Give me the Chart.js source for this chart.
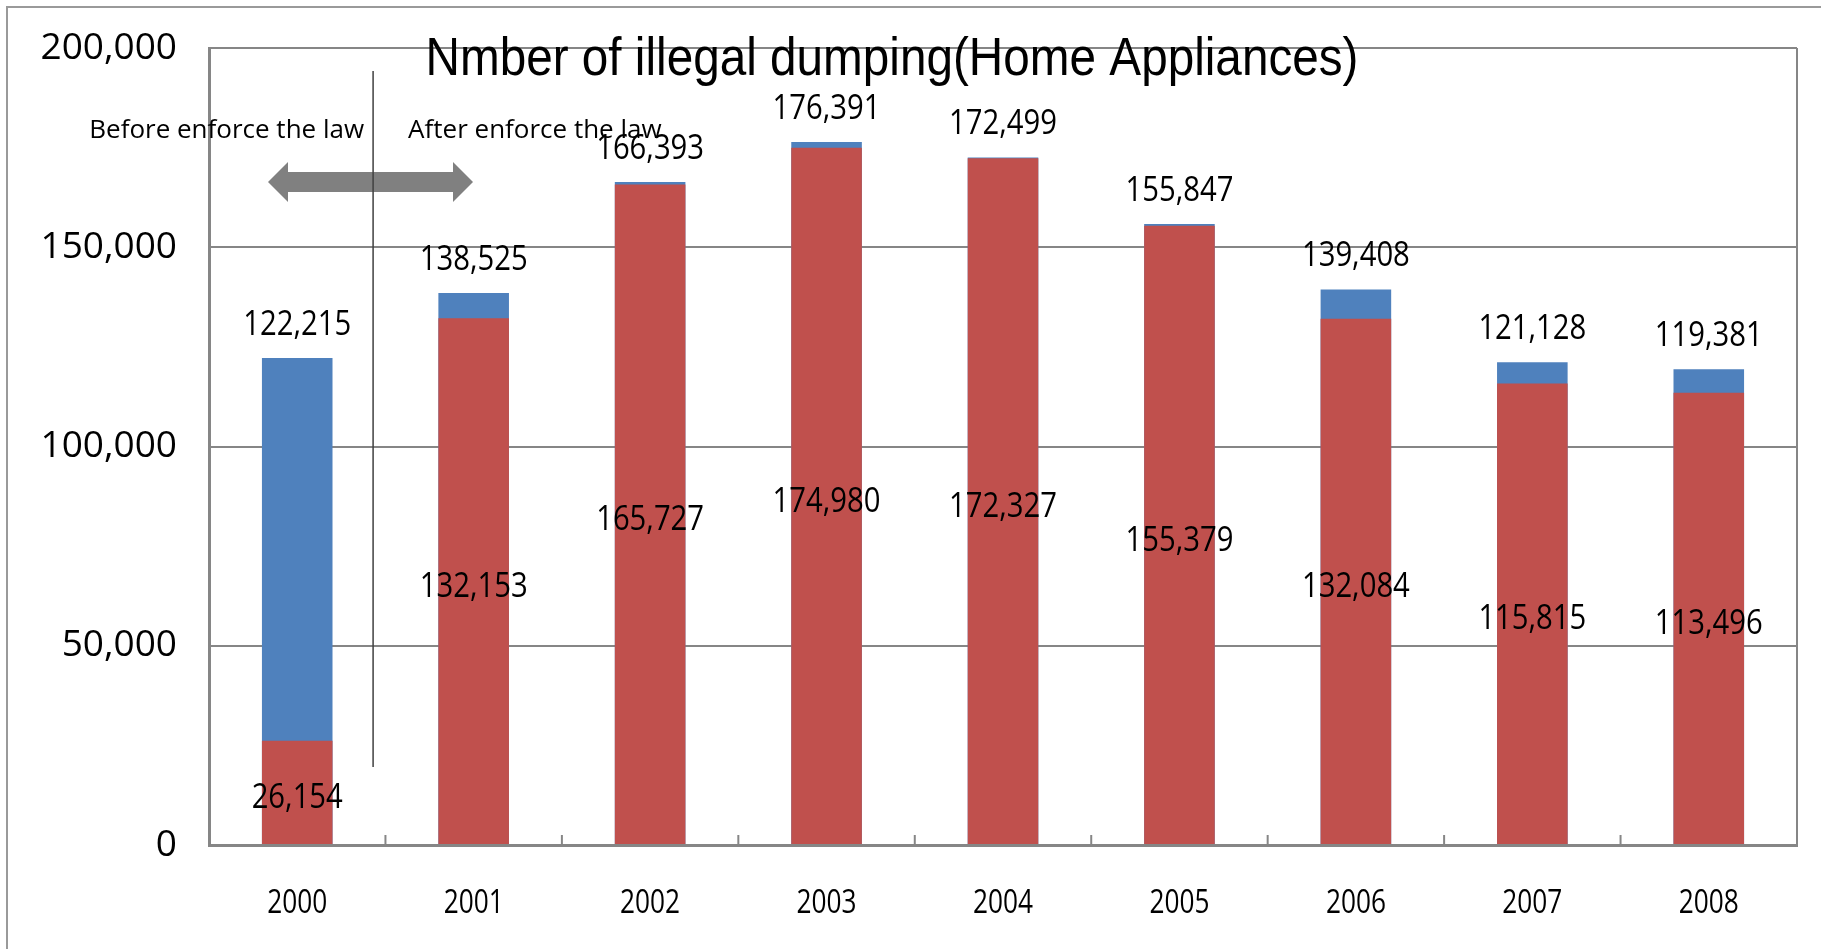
<!DOCTYPE html>
<html>
<head>
<meta charset="utf-8">
<script src="https://cdn.jsdelivr.net/npm/chart.js@4.4.1/dist/chart.umd.min.js"></script>
<style>
  body { margin: 0; background: #fff; }
</style>
</head>
<body>
<canvas id="myChart" width="1821" height="949"></canvas>
<script>
// DATA
const years = ["2000", "2001", "2002", "2003", "2004", "2005", "2006", "2007", "2008"];
const totalCounts = [122215, 138525, 166393, 176391, 172499, 155847, 139408, 121128, 119381];
const redCounts = [26154, 132153, 165727, 174980, 172327, 155379, 132084, 115815, 113496];
const yTicks = [0, 50000, 100000, 150000, 200000];

const chartTitle = "Nmber of illegal dumping(Home Appliances)";
const beforeText = "Before enforce the law";
const afterText = "After enforce the law";

const gridGray = "#868686";

function fmt(v) {
  return v.toLocaleString("en-US");
}

// text squeezed sideways, to look like the narrow office fonts
function squeezedText(ctx, text, x, y, sx) {
  ctx.save();
  ctx.translate(x, y);
  ctx.scale(sx, 1);
  ctx.fillText(text, 0, 0);
  ctx.restore();
}

// labels, frame, arrow, title
const extras = {
  id: "extras",
  afterDatasetsDraw(chart) {
    const ctx = chart.ctx;
    ctx.save();
    ctx.fillStyle = "#000";
    ctx.font = "34px 'Open Sans'";
    ctx.textAlign = "center";
    ctx.textBaseline = "middle";

    // red values, centred in the red bar
    chart.getDatasetMeta(0).data.forEach((bar, i) => {
      squeezedText(ctx, fmt(redCounts[i]), bar.x, (bar.y + bar.base) / 2 + 6, 0.86);
    });
    // totals above the bar
    chart.getDatasetMeta(1).data.forEach((bar, i) => {
      squeezedText(ctx, fmt(totalCounts[i]), bar.x, bar.y - 33, 0.86);
    });
    ctx.restore();
  },
  afterDraw(chart) {
    const ctx = chart.ctx;
    const area = chart.chartArea;
    const xs = chart.scales.x;
    ctx.save();

    // outer frame
    ctx.strokeStyle = "#9a9a9a";
    ctx.lineWidth = 2;
    ctx.beginPath();
    ctx.moveTo(7, chart.height);
    ctx.lineTo(7, 7);
    ctx.lineTo(chart.width, 7);
    ctx.stroke();

    // right border of plot
    ctx.strokeStyle = gridGray;
    ctx.lineWidth = 2;
    ctx.beginPath();
    ctx.moveTo(area.right, area.top);
    ctx.lineTo(area.right, area.bottom);
    ctx.stroke();

    // inward tick marks between categories
    for (let i = 0; i <= years.length; i++) {
      const x = xs.getPixelForValue(i - 0.5);
      ctx.beginPath();
      ctx.moveTo(x, area.bottom);
      ctx.lineTo(x, area.bottom - 10);
      ctx.stroke();
    }

    // category labels under the axis
    ctx.fillStyle = "#000";
    ctx.font = "32px 'Open Sans'";
    ctx.textAlign = "center";
    ctx.textBaseline = "middle";
    years.forEach((yr, i) => {
      squeezedText(ctx, yr, xs.getPixelForValue(i), area.bottom + 59, 0.82);
    });

    // double arrow
    const ax1 = area.left + 59, ax2 = area.left + 264, ay = 182;
    ctx.fillStyle = "#808080";
    ctx.beginPath();
    ctx.moveTo(ax1, ay);
    ctx.lineTo(ax1 + 20, ay - 20);
    ctx.lineTo(ax1 + 20, ay - 10);
    ctx.lineTo(ax2 - 20, ay - 10);
    ctx.lineTo(ax2 - 20, ay - 20);
    ctx.lineTo(ax2, ay);
    ctx.lineTo(ax2 - 20, ay + 20);
    ctx.lineTo(ax2 - 20, ay + 10);
    ctx.lineTo(ax1 + 20, ay + 10);
    ctx.lineTo(ax1 + 20, ay + 20);
    ctx.closePath();
    ctx.fill();

    // divider line
    const lx = xs.getPixelForValue(0.43);
    ctx.strokeStyle = "#404040";
    ctx.lineWidth = 1.5;
    ctx.beginPath();
    ctx.moveTo(lx, 71);
    ctx.lineTo(lx, 767);
    ctx.stroke();

    // before / after text
    ctx.fillStyle = "#000";
    ctx.font = "26px 'Open Sans'";
    ctx.textBaseline = "alphabetic";
    ctx.textAlign = "right";
    ctx.fillText(beforeText, lx - 9, 138);
    ctx.textAlign = "left";
    ctx.fillText(afterText, lx + 35, 138);

    // title, squeezed to the narrow width of the original
    ctx.font = "53px 'Liberation Sans', Arial, sans-serif";
    ctx.textAlign = "center";
    const sx = 933 / ctx.measureText(chartTitle).width;
    squeezedText(ctx, chartTitle, 892, 75, sx);
    ctx.restore();
  }
};

const ctx = document.getElementById("myChart").getContext("2d");

const myChart = new Chart(ctx, {
  type: "bar",
  data: {
    labels: years,
    datasets: [
      {
        label: "After",
        data: redCounts,
        backgroundColor: "#C0504D",
        barPercentage: 0.4,
        categoryPercentage: 1.0,
        order: 1
      },
      {
        label: "Total",
        data: totalCounts,
        backgroundColor: "#4F81BD",
        barPercentage: 0.4,
        categoryPercentage: 1.0,
        order: 2
      }
    ]
  },
  options: {
    responsive: false,
    animation: false,
    layout: {
      padding: { left: 0, top: 48, right: 24, bottom: 0 }
    },
    plugins: {
      legend: { display: false },
      tooltip: { enabled: false }
    },
    scales: {
      x: {
        stacked: true,
        grid: { display: false },
        border: { display: true, color: gridGray, width: 3 },
        ticks: { display: false },
        afterFit(scale) { scale.height = 104; }
      },
      y: {
        stacked: false,
        min: 0,
        max: 200000,
        afterBuildTicks(scale) {
          scale.ticks = yTicks.map(v => ({ value: v }));
        },
        grid: { color: gridGray, lineWidth: 2, drawTicks: false },
        border: { display: true, color: gridGray, width: 3 },
        ticks: {
          color: "#000",
          // small line height so the label padding does not push the plot down
          font: { family: "'Open Sans'", size: 37, lineHeight: 0.8 },
          padding: 32,
          callback: v => fmt(v)
        },
        afterFit(scale) { scale.width = 209; }
      }
    }
  },
  plugins: [extras]
});
</script>
</body>
</html>
